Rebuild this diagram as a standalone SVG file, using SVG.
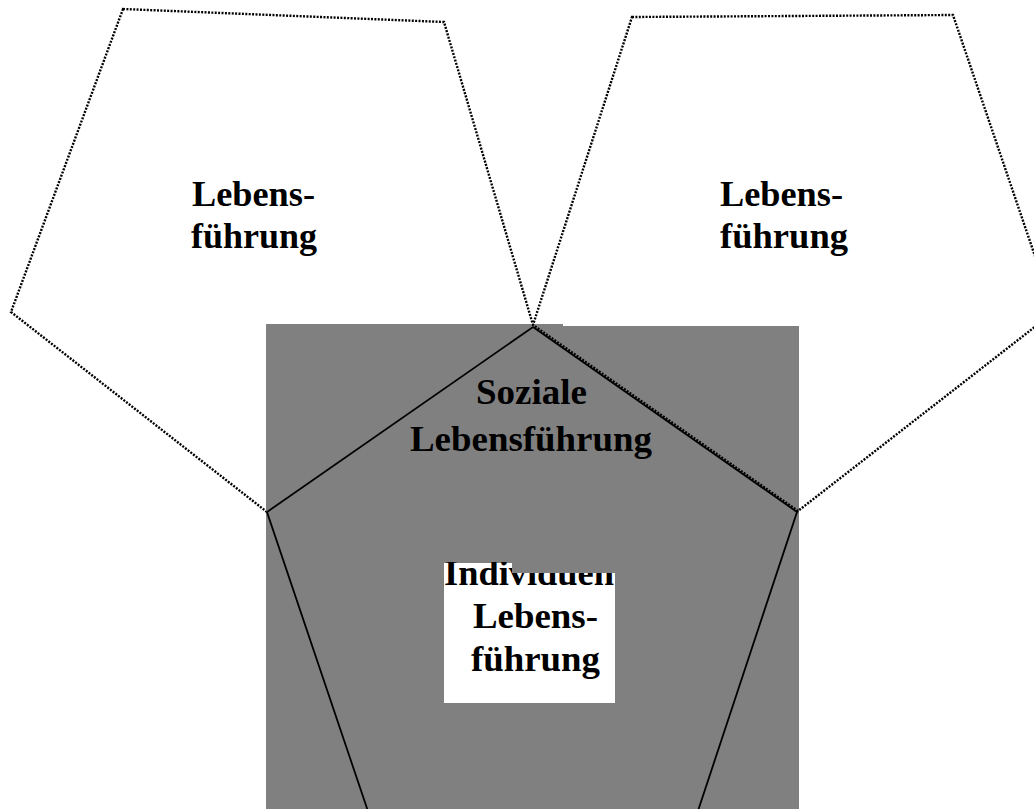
<svg xmlns="http://www.w3.org/2000/svg" width="1034" height="809" viewBox="0 0 1034 809">
<style>
.dot{fill:#fff;stroke:#000;stroke-width:2.4;stroke-dasharray:2 1.4}
.dotn{fill:none;stroke:#000;stroke-width:2.4;stroke-dasharray:2 1.4}
.sol{fill:none;stroke:#000;stroke-width:1.8}
.t{font-family:"Liberation Serif","Times New Roman",serif;font-weight:bold;font-size:35px;fill:#000}
</style>
<defs>
<clipPath id="boxclip"><path d="M444,562 H512 V573 H615 V703 H444 Z"/></clipPath>
</defs>
<rect width="1034" height="809" fill="#fff"/>
<g id="left-pentagon">
<polygon class="dot" points="123,9 444,22 533,325 267,512 11,312"/>
<text class="t" x="192" y="206" textLength="123" lengthAdjust="spacingAndGlyphs">Lebens-</text>
<text class="t" x="191" y="248" textLength="126" lengthAdjust="spacingAndGlyphs">führung</text>
</g>
<g id="right-pentagon-label">
<text class="t" x="720" y="206" textLength="123" lengthAdjust="spacingAndGlyphs">Lebens-</text>
<text class="t" x="720" y="248" textLength="128" lengthAdjust="spacingAndGlyphs">führung</text>
</g>
<g id="center-pentagon">
<path d="M266,324 H563 V326 H799 V809 H266 Z" fill="#808080"/>
<polygon class="sol" points="533,327 797,512 690,835 376,835 267,512"/>
<text class="t" x="476" y="404" textLength="111" lengthAdjust="spacingAndGlyphs">Soziale</text>
<text class="t" x="410" y="451" textLength="242" lengthAdjust="spacingAndGlyphs">Lebensführung</text>
</g>
<g id="right-pentagon">
<polygon class="dotn" points="632,17 953,15 1054,312 798,511 533,325"/>
</g>
<g id="individual-box">
<path d="M444,563 H512 V573 H615 V703 H444 Z" fill="#fff"/>
<g clip-path="url(#boxclip)">
<text class="t" x="444" y="585" textLength="170" lengthAdjust="spacingAndGlyphs">Individuen</text>
</g>
<text class="t" x="473" y="628" textLength="125" lengthAdjust="spacingAndGlyphs">Lebens-</text>
<text class="t" x="471" y="671" textLength="129" lengthAdjust="spacingAndGlyphs">führung</text>
</g>
<g id="connectors"/>
</svg>
